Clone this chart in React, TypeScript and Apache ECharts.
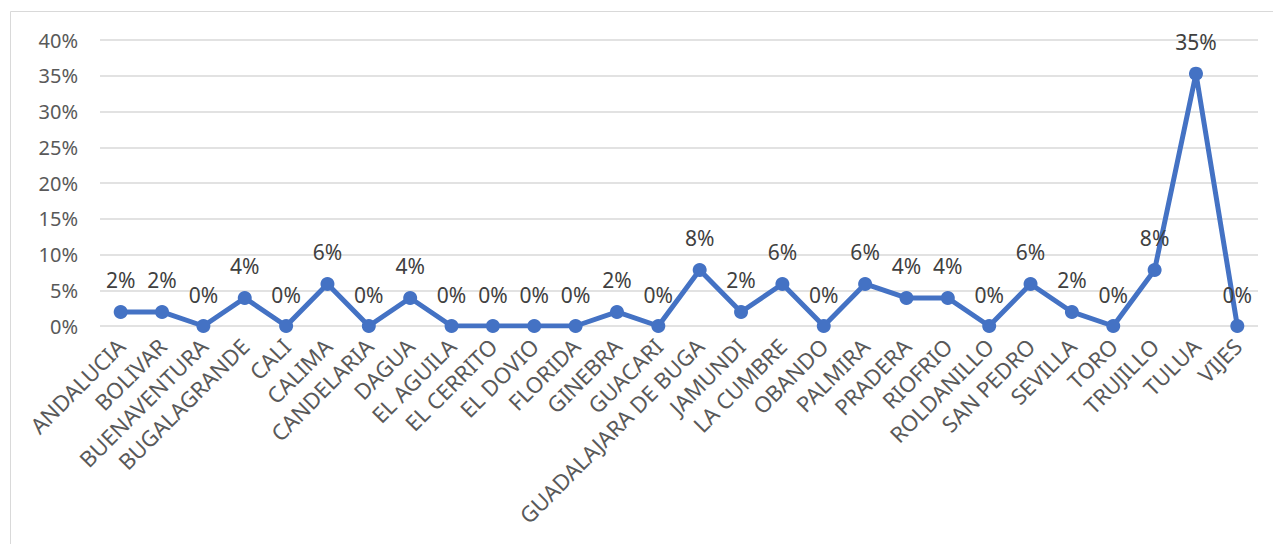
import React, { useEffect, useRef } from "react";
import * as echarts from "echarts";

const categories = [
  "ANDALUCIA", "BOLIVAR", "BUENAVENTURA", "BUGALAGRANDE", "CALI", "CALIMA",
  "CANDELARIA", "DAGUA", "EL AGUILA", "EL CERRITO", "EL DOVIO", "FLORIDA",
  "GINEBRA", "GUACARI", "GUADALAJARA DE BUGA", "JAMUNDI", "LA CUMBRE", "OBANDO",
  "PALMIRA", "PRADERA", "RIOFRIO", "ROLDANILLO", "SAN PEDRO", "SEVILLA", "TORO",
  "TRUJILLO", "TULUA", "VIJES",
];

const values = [
  0.0196, 0.0196, 0, 0.0392, 0, 0.0588,
  0, 0.0392, 0, 0, 0, 0,
  0.0196, 0, 0.0784, 0.0196, 0.0588, 0,
  0.0588, 0.0392, 0.0392, 0, 0.0588, 0.0196, 0,
  0.0784, 0.3529, 0,
];

const yTicks = [0, 0.4, 0.05];

export default function App() {
  const ref = useRef<HTMLDivElement>(null);
  useEffect(() => {
    if (!ref.current) return;
    const chart = echarts.init(ref.current, undefined, { renderer: "svg" });
    const font = "'Noto Sans', 'DejaVu Sans', sans-serif";
    chart.setOption({
      animation: false,
      backgroundColor: "#ffffff",
      graphic: [
        {
          type: "rect",
          shape: { x: 10.5, y: 11.5, width: 1300, height: 600 },
          style: { fill: "none", stroke: "#d9d9d9", lineWidth: 1 },
          silent: true,
        },
      ],
      grid: { left: 100, right: 15, top: 40, bottom: 218, containLabel: false },
      xAxis: {
        type: "category",
        data: categories,
        boundaryGap: true,
        axisLine: { show: false },
        axisTick: { show: false },
        axisLabel: {
          rotate: 45,
          interval: 0,
          color: "#595959",
          fontSize: 22,
          fontFamily: font,
          margin: 16,
        },
      },
      yAxis: {
        type: "value",
        min: yTicks[0],
        max: yTicks[1],
        interval: yTicks[2],
        axisLine: { show: false },
        axisTick: { show: false },
        splitLine: { lineStyle: { color: "#d9d9d9", width: 1.5 } },
        axisLabel: {
          color: "#595959",
          fontSize: 20,
          fontFamily: font,
          margin: 22,
          formatter: (v: number) => Math.round(v * 100) + "%",
        },
      },
      series: [
        {
          type: "line",
          data: values,
          symbol: "circle",
          symbolSize: 14,
          itemStyle: { color: "#4472C4" },
          lineStyle: { color: "#4472C4", width: 5 },
          label: {
            show: true,
            position: "top",
            distance: 14,
            color: "#404040",
            fontSize: 21,
            fontFamily: font,
            formatter: (p: any) => Math.round(p.value * 100) + "%",
          },
        },
      ],
    });
    return () => chart.dispose();
  }, []);
  return (
    <div
      ref={ref}
      style={{ position: "absolute", left: 0, top: 0, width: 1273, height: 544 }}
    />
  );
}
